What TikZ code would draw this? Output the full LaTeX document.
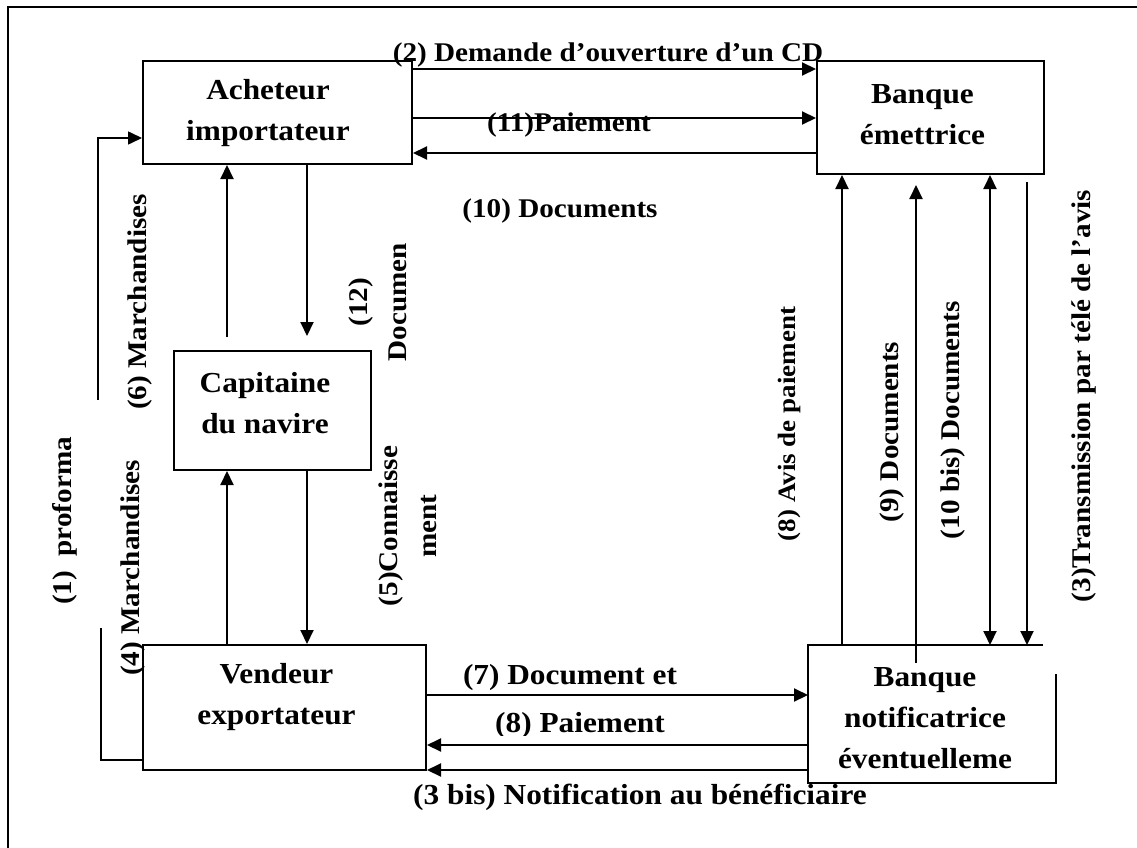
\documentclass[tikz,border=0pt]{standalone}
\usepackage{fontspec}
\setmainfont{Liberation Serif}[FakeStretch=1.08]
\usetikzlibrary{arrows.meta,calc}
\tikzset{
  box/.style={draw, line width=2pt, rectangle, inner sep=0pt},
  boxtext/.style={font=\fontsize{29}{41}\selectfont\bfseries, align=center, inner sep=0pt},
  lbl/.style={font=\fontsize{27}{39}\selectfont\bfseries, align=center, inner sep=0pt},
  lbls/.style={font=\fontsize{25}{36}\selectfont\bfseries, align=center, inner sep=0pt},
  lblb/.style={font=\fontsize{29}{41}\selectfont\bfseries, align=center, inner sep=0pt},
  ln/.style={line width=2pt},
  thinln/.style={line width=1.6pt},
  arr/.style={line width=2pt, -{Triangle[length=14pt,width=13pt]}},
  darr/.style={line width=2pt, {Triangle[length=14pt,width=13pt]}-{Triangle[length=14pt,width=13pt]}},
}
\begin{document}
\begin{tikzpicture}[x=1pt,y=-1pt]
\useasboundingbox (0,0) rectangle (1137,848);
\clip (0,0) rectangle (1137,848);
\fill[white] (0,0) rectangle (1137,848);
% frame (only its top and left edges lie inside the picture)
\draw[ln] (8,860) -- (8,7) -- (1150,7);

% boxes
\node[box, minimum width=269pt, minimum height=103pt] (ach) at (277.5,112.5) {};
\node[box, minimum width=227pt, minimum height=113pt] (be) at (930.5,117.5) {};
\node[box, minimum width=197pt, minimum height=119pt] (cap) at (272.5,410.5) {};
\node[box, minimum width=283pt, minimum height=125pt] (ven) at (284.5,707.5) {};
\node[rectangle, inner sep=0pt, outer sep=0pt, minimum width=248pt, minimum height=138pt] (bn) at (932,714) {};
\draw[ln] ($(bn.north west)+(235,0)$) -- (bn.north west) -- (bn.south west) -- (bn.south east) -- ($(bn.south east)+(0,-109)$);

% box texts
\node[boxtext] (tach) at (268,113) {Acheteur\\importateur};
\node[boxtext] (tbe) at (922.5,114.5) {Banque\\émettrice};
\node[boxtext] (tcap) at (265,403.5) {Capitaine\\du navire};
\node[boxtext] (tven) at (276.5,697.5) {Vendeur\\exportateur};
\node[boxtext] (tbn) at (925,718) {Banque\\notificatrice\\éventuelleme};

% top connectors
\draw[arr] (ach.east |- 0,69) -- (be.west |- 0,69);
\draw[arr] (ach.east |- 0,118) -- (be.west |- 0,118);
\draw[arr] (be.west |- 0,153) -- (ach.east |- 0,153);

% vertical connectors on the left
\draw[arr, shorten >=14pt] (ach.south -| 307,0) -- (cap.north -| 307,0);
\draw[arr, shorten <=13pt] (cap.north -| 227,0) -- (ach.south -| 227,0);
\draw[arr] (ven.north -| 227,0) -- (cap.south -| 227,0);
\draw[arr] (cap.south -| 307,0) -- (ven.north -| 307,0);

% (1) proforma lines
\draw[thinln, -{Triangle[length=14pt,width=13pt]}] (98,400) |- (ach.west |- 0,138);
\draw[thinln] (101,628) |- (ven.west |- 0,760);

% bottom connectors
\draw[arr] (ven.east |- 0,695) -- (bn.west |- 0,695);
\draw[arr] (bn.west |- 0,745) -- (ven.east |- 0,745);
\draw[arr] (bn.west |- 0,770) -- (ven.east |- 0,770);

% right vertical connectors
\draw[arr] (bn.north -| 842,0) -- (be.south -| 842,0);
\draw[arr, shorten >=10pt] ($(bn.north -| 916,0)+(0,18)$) -- (be.south -| 916,0);
\draw[darr] (bn.north -| 990,0) -- (be.south -| 990,0);
\draw[arr, shorten <=7pt] (be.south -| 1027,0) -- (bn.north -| 1027,0);

% labels
\node[lbl] (l2) at (608,55) {(2) Demande d’ouverture d’un CD};
\node[lbl] (l11) at (569,125) {(11)Paiement};
\node[lbl] (l10) at (560,211) {(10) Documents};
\node[lbl, rotate=90] (l12) at (378,302) {(12)\\Documen};
\node[lbl, rotate=90] (l6) at (140,302) {(6) Marchandises};
\node[lbl, rotate=90] (l1) at (65,521) {(1)~~proforma};
\node[lbl, rotate=90] (l4) at (133,568) {(4) Marchandises};
\node[lbl, rotate=90] (l5) at (408,526) {(5)Connaisse\\ment};
\node[lblb] (l7) at (570,678) {(7) Document et};
\begin{scope}
\clip (420,690) rectangle (760,735);
\node[lblb] (l8) at (580,726) {(8) Paiement};
\end{scope}
\node[lblb] (l3b) at (640,797) {(3 bis) Notification au bénéficiaire};
\node[lbls, rotate=90] (l8a) at (789,424) {(8) Avis de paiement};
\node[lbl, rotate=90] (l9) at (892,432) {(9) Documents};
\node[lbl, rotate=90] (l10b) at (953,420) {(10 bis) Documents};
\node[lbl, rotate=90] (l3) at (1084,396) {(3)Transmission par télé de l’avis};
\end{tikzpicture}
\end{document}
